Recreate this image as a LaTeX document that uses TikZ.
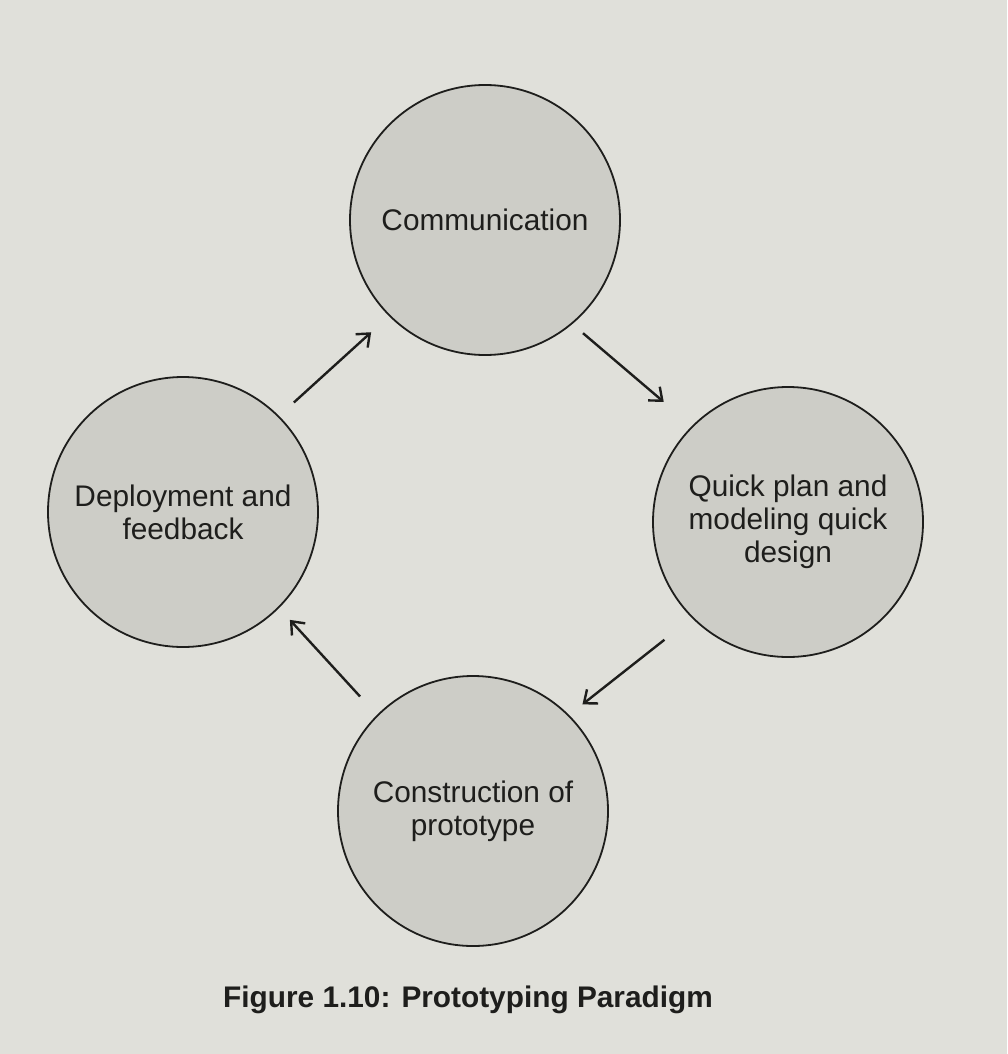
\documentclass[tikz,border=0pt]{standalone}
\usepackage{fontspec}
\setmainfont{Liberation Sans}
\usetikzlibrary{arrows.meta}
\definecolor{cpaper}{HTML}{E0E0DA}
\definecolor{cdisc}{HTML}{CDCDC7}
\definecolor{cink}{HTML}{1E1E1C}
\tikzset{
  phase/.style={circle, draw=cink, fill=cdisc, line width=1.8pt,
                minimum size=270pt, align=center, text=cink,
                font=\fontsize{29.8}{33}\selectfont},
  flow/.style={-{Straight Barb[length=11pt,width=18pt]}, line width=2.4pt,
               draw=cink},
}

\begin{document}
\begin{tikzpicture}[x=1pt,y=-1pt]
  \fill[cpaper] (0,0) rectangle (1007,1054);
  \useasboundingbox (0,0) rectangle (1007,1054);
  \node[phase] (comm) at (485,220) {Communication};
  \node[phase] (plan) at (788,522) {Quick plan and\\modeling quick\\design};
  \node[phase] (build) at (473,811) {Construction of\\prototype};
  \node[phase] (deploy) at (183,512) {Deployment and\\feedback};
  \foreach \a/\b/\s/\e in {deploy.45/comm.225/20/24,comm.-50/plan.135/14/37,plan.225/build.45/35/17,build.135/deploy.-45/25/16}
     \draw[flow, shorten <=\s pt, shorten >=\e pt] (\a)--(\b);
  \node[text=cink, font=\bfseries\fontsize{29.8}{33}\selectfont] (cap) at (468,1000) {Figure 1.10: Prototyping Paradigm};
\end{tikzpicture}
\end{document}
